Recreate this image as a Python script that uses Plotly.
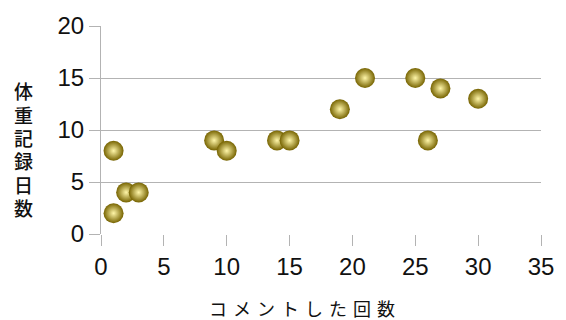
import plotly.graph_objects as go

# comment count vs. number of days with a weight record
comments = [1, 1, 2, 3, 9, 10, 14, 15, 19, 21, 25, 26, 27, 30]
record_days = [2, 8, 4, 4, 9, 8, 9, 9, 12, 15, 15, 9, 14, 13]

x_ticks = [0, 5, 10, 15, 20, 25, 30, 35]
y_ticks = [0, 5, 10, 15, 20]

x_title = "コメントした回数"
y_title = "体重記録日数"

W, H = 566, 320
ML, MR, MT, MB = 101, 24, 23, 86
PW, PH = W - ML - MR, H - MT - MB

grid = "#b3b3b3"
tick_font = dict(family="Liberation Sans, Arial, sans-serif", size=24, color="#111111")
cjk = "Noto Sans CJK JP, sans-serif"


def px_x(px):
    return (px - ML) / PW


def px_y(py):
    return (H - MB - py) / PH


fig = go.Figure()

# gold balls: dark olive rim with a pale centre
fig.add_trace(go.Scatter(
    x=comments, y=record_days, mode="markers",
    marker=dict(
        size=20, color="#766300",
        gradient=dict(type="radial", color="#fff6a8"),
        line=dict(width=0),
    ),
    hoverinfo="x+y",
))

fig.update_layout(
    width=W, height=H,
    margin=dict(l=ML, r=MR, t=MT, b=MB),
    paper_bgcolor="white", plot_bgcolor="white",
    showlegend=False,
    xaxis=dict(
        range=[0, 35], tickvals=x_ticks, ticktext=[str(v) for v in x_ticks],
        showgrid=False, zeroline=False,
        showline=False,
        ticks="outside", ticklen=11, tickwidth=1, tickcolor=grid,
        tickfont=tick_font,
    ),
    yaxis=dict(
        range=[0, 20], tickvals=y_ticks, ticktext=[str(v) for v in y_ticks],
        showgrid=True, gridcolor=grid, gridwidth=1,
        zeroline=False,
        showline=True, linecolor=grid, linewidth=1,
        ticks="outside", ticklen=11, tickwidth=1, tickcolor=grid,
        tickfont=tick_font,
    ),
)

title_font = dict(family=cjk, size=19, color="#111111", weight=500)

# vertical axis title, one character per line
for i, ch in enumerate(y_title):
    fig.add_annotation(
        text=ch, xref="paper", yref="paper",
        x=px_x(23), y=px_y(88.5 + 23.8 * i),
        xanchor="center", yanchor="middle",
        height=21, borderpad=0,
        showarrow=False, font=title_font,
    )

# horizontal axis title, letter-spaced
for i, ch in enumerate(x_title):
    fig.add_annotation(
        text=ch, xref="paper", yref="paper",
        x=px_x(218.5 + 24 * i), y=px_y(309),
        xanchor="center", yanchor="middle",
        borderpad=0,
        showarrow=False, font=dict(family=cjk, size=18, color="#111111"),
    )

fig.write_html("out.html")
